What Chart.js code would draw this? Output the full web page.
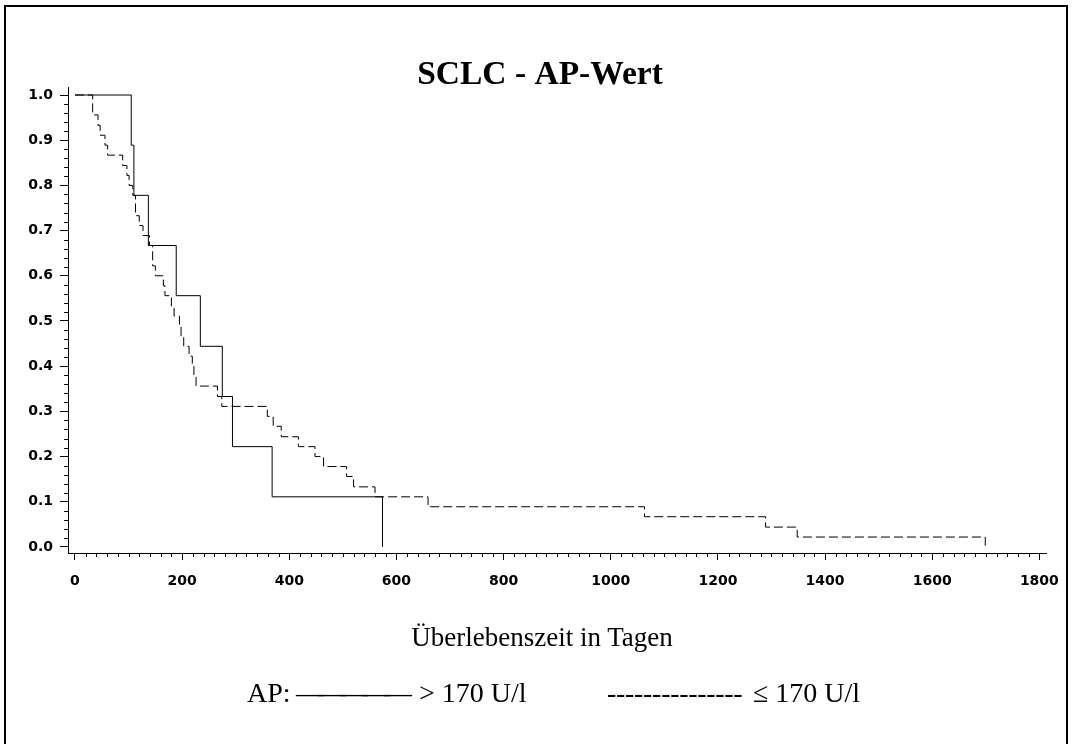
<!DOCTYPE html>
<html>
<head>
<meta charset="utf-8">
<script src="https://cdn.jsdelivr.net/npm/chart.js@4.4.1/dist/chart.umd.min.js"></script>
<style>
  html, body { margin: 0; padding: 0; background: #fff; }
  #wrap { position: relative; width: 1072px; height: 744px; overflow: hidden; }
  #frame { position: absolute; left: 4px; top: 5px; width: 1060px; height: 800px; border: 2px solid #000; }
  #kmChart { position: absolute; left: 0; top: 0; }
  .txt { position: absolute; font-family: "Liberation Serif", serif; font-size: 28px; line-height: 28px; white-space: pre; color: #000; }
</style>
</head>
<body>
<div id="wrap">
  <div id="frame"></div>
  <canvas id="kmChart" width="1072" height="744"></canvas>
  <div class="txt" style="left:0; width:1084px; text-align:center; top:623px; font-size:27px">Überlebenszeit in Tagen</div>
  <span class="txt" style="left:247px; top:679px">AP:</span>
  <span class="txt" style="left:296px; top:679px; letter-spacing:-6px">—————</span>
  <span class="txt" style="left:419px; top:679px">&gt; 170 U/l</span>
  <span class="txt" style="left:607px; top:679px; letter-spacing:-0.3px">---------------</span>
  <span class="txt" style="left:753px; top:679px">≤ 170 U/l</span>
</div>
<script>
// tick labels
const xTicks = [0, 200, 400, 600, 800, 1000, 1200, 1400, 1600, 1800];
const yTicks = [0.0, 0.1, 0.2, 0.3, 0.4, 0.5, 0.6, 0.7, 0.8, 0.9, 1.0];

// AP > 170 U/l (solid)
const highDays = [0, 105, 110, 137, 189, 234, 275, 294, 368, 574];
const highSurv = [1.0, 0.889, 0.778, 0.667, 0.556, 0.444, 0.333, 0.222, 0.111, 0.0];

// AP <= 170 U/l (dashed)
const lowDays = [0, 33, 43, 47, 56, 61, 89, 97, 101, 108, 113, 120, 127, 139, 145, 150,
  165, 168, 180, 185, 195, 198, 203, 213, 219, 222, 226, 266, 274, 359, 370, 385,
  417, 448, 464, 507, 520, 560, 659, 1063, 1289, 1348, 1699];
const lowSurv = [1.0, 0.956, 0.933, 0.911, 0.889, 0.867, 0.844, 0.822, 0.800, 0.778, 0.733, 0.711, 0.689, 0.667, 0.622, 0.600,
  0.578, 0.556, 0.533, 0.511, 0.489, 0.467, 0.444, 0.422, 0.400, 0.378, 0.356, 0.333, 0.311, 0.289, 0.267, 0.244,
  0.222, 0.200, 0.178, 0.156, 0.133, 0.111, 0.089, 0.067, 0.044, 0.022, 0.0];

const tickFont = { family: "DejaVu Sans", size: 14, weight: "bold", lineHeight: 1.2 };

function toPoints(days, surv) {
  return days.map((d, i) => ({ x: d, y: surv[i] }));
}

// short minor ticks between the labelled ones
const minorTicks = {
  id: "minorTicks",
  afterDraw(chart) {
    const { ctx, chartArea, scales } = chart;
    ctx.save();
    ctx.strokeStyle = "#000";
    ctx.lineWidth = 1;
    ctx.beginPath();
    for (let i = 0; i < xTicks.length - 1; i++) {
      const step = (xTicks[i + 1] - xTicks[i]) / 10;
      for (let k = 1; k < 10; k++) {
        const px = Math.round(scales.x.getPixelForValue(xTicks[i] + k * step)) + 0.5;
        ctx.moveTo(px, chartArea.bottom);
        ctx.lineTo(px, chartArea.bottom + 4);
      }
    }
    for (let i = 0; i < yTicks.length - 1; i++) {
      const step = (yTicks[i + 1] - yTicks[i]) / 5;
      for (let k = 1; k < 5; k++) {
        const py = Math.round(scales.y.getPixelForValue(yTicks[i] + k * step)) + 0.5;
        ctx.moveTo(chartArea.left, py);
        ctx.lineTo(chartArea.left - 4, py);
      }
    }
    ctx.stroke();
    ctx.restore();
  }
};

new Chart(document.getElementById("kmChart"), {
  type: "line",
  data: {
    datasets: [
      {
        label: "> 170 U/l",
        data: toPoints(highDays, highSurv),
        borderColor: "#000",
        borderWidth: 1,
        stepped: "before",
        pointRadius: 0,
        fill: false
      },
      {
        label: "≤ 170 U/l",
        data: toPoints(lowDays, lowSurv),
        borderColor: "#000",
        borderWidth: 1,
        borderDash: [9, 4],
        stepped: "before",
        pointRadius: 0,
        fill: false
      }
    ]
  },
  options: {
    responsive: false,
    animation: false,
    layout: { padding: { left: 28, right: 20, top: 0, bottom: 0 } },
    plugins: {
      legend: { display: false },
      tooltip: { enabled: false },
      title: {
        display: true,
        text: "SCLC - AP-Wert",
        color: "#000",
        font: { family: "Liberation Serif", size: 33.5, weight: "bold", lineHeight: "23px" },
        padding: { top: 64, bottom: 0 }
      }
    },
    scales: {
      x: {
        type: "linear",
        bounds: "data",
        min: -13,
        max: 1814,
        afterBuildTicks: (scale) => { scale.ticks = xTicks.map((v) => ({ value: v })); },
        afterFit: (scale) => { scale.height = 191; },
        ticks: {
          color: "#000",
          font: tickFont,
          padding: 13,
          maxRotation: 0,
          autoSkip: false,
          callback: (v) => String(v)
        },
        grid: { display: true, drawOnChartArea: false, drawTicks: true, tickLength: 7, color: "#000", lineWidth: 1 },
        border: { display: true, color: "#000", width: 1 }
      },
      y: {
        type: "linear",
        bounds: "data",
        min: -0.0133,
        max: 1.0177,
        afterBuildTicks: (scale) => { scale.ticks = yTicks.map((v) => ({ value: v })); },
        afterFit: (scale) => { scale.width = 40; },
        ticks: {
          color: "#000",
          font: tickFont,
          padding: 7,
          autoSkip: false,
          callback: (v) => v.toFixed(1)
        },
        grid: { display: true, drawOnChartArea: false, drawTicks: true, tickLength: 8, color: "#000", lineWidth: 1 },
        border: { display: true, color: "#000", width: 1 }
      }
    }
  },
  plugins: [minorTicks]
});
</script>
</body>
</html>
